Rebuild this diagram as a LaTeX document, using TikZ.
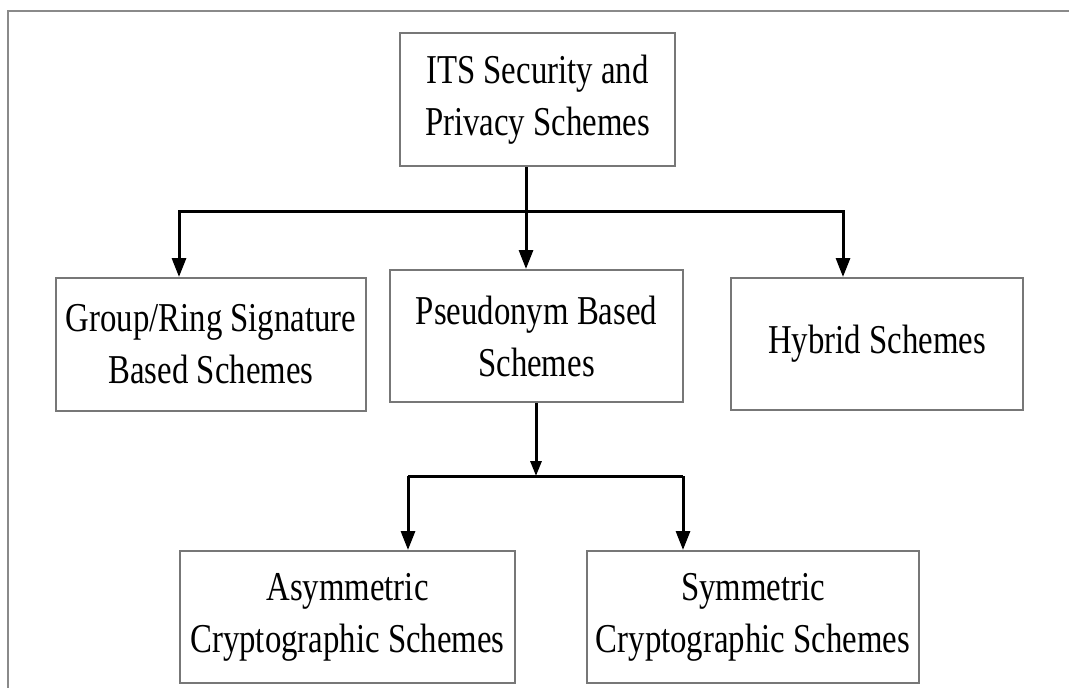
\documentclass[tikz,border=0pt]{standalone}
\usepackage{fontspec}
\setmainfont{Liberation Serif}[FakeStretch=0.8]
\usetikzlibrary{arrows.meta}
\definecolor{boxgray}{HTML}{777777}
\definecolor{framegray}{HTML}{8A8A8A}
\begin{document}
\begin{tikzpicture}[x=1pt,y=-1pt,
  box/.style={draw=boxgray, line width=2pt, inner sep=0pt, align=center,
    font=\fontsize{41}{52}\selectfont, text=black},
  conn/.style={line width=3pt, black},
  arr/.style={conn, -{Triangle[width=14pt,length=19pt]}},
  smallarr/.style={conn, -{Triangle[width=11pt,length=15pt]}}]
\useasboundingbox (0,0) rectangle (1069,688);
% outer frame (cut off at right and bottom)
\draw[framegray, line width=2pt] (8,688) -- (8,11) -- (1069,11);

\node[box, minimum width=275pt, minimum height=133pt] (root) at (537.5,99.5)
  {ITS Security and\\Privacy Schemes};
\node[box, minimum width=310pt, minimum height=133pt] (group) at (211,344.5)
  {Group/Ring Signature\\Based Schemes};
\node[box, minimum width=293pt, minimum height=132pt] (pseudo) at (536.5,336)
  {Pseudonym Based\\Schemes};
\node[box, minimum width=292pt, minimum height=132pt] (hybrid) at (877,344)
  {Hybrid Schemes};
\node[box, minimum width=335pt, minimum height=132pt] (asym) at (347.5,617)
  {Asymmetric\\Cryptographic Schemes};
\node[box, minimum width=332pt, minimum height=132pt] (sym) at (753,617)
  {Symmetric\\Cryptographic Schemes};

% first level connectors
\coordinate (j1) at (526,211);
\coordinate (gx) at (179,211);
\coordinate (hx) at (843,211);
\draw[conn] (root.south -| j1) -- (j1);
\draw[arr] (j1) -- (gx) -- (group.north -| gx);
\draw[arr] (j1) -- (hx) -- (hybrid.north -| hx);
\draw[arr] (j1) -- (pseudo.north -| j1);

% second level connectors
\coordinate (j2) at (536,476);
\coordinate (ax) at (408,476);
\coordinate (sx) at (683,476);
\draw[smallarr] (pseudo.south -| j2) -- (j2);
\draw[conn] (ax) -- (sx);
\draw[arr] (ax) -- (asym.north -| ax);
\draw[arr] (sx) -- (sym.north -| sx);
\end{tikzpicture}
\end{document}
